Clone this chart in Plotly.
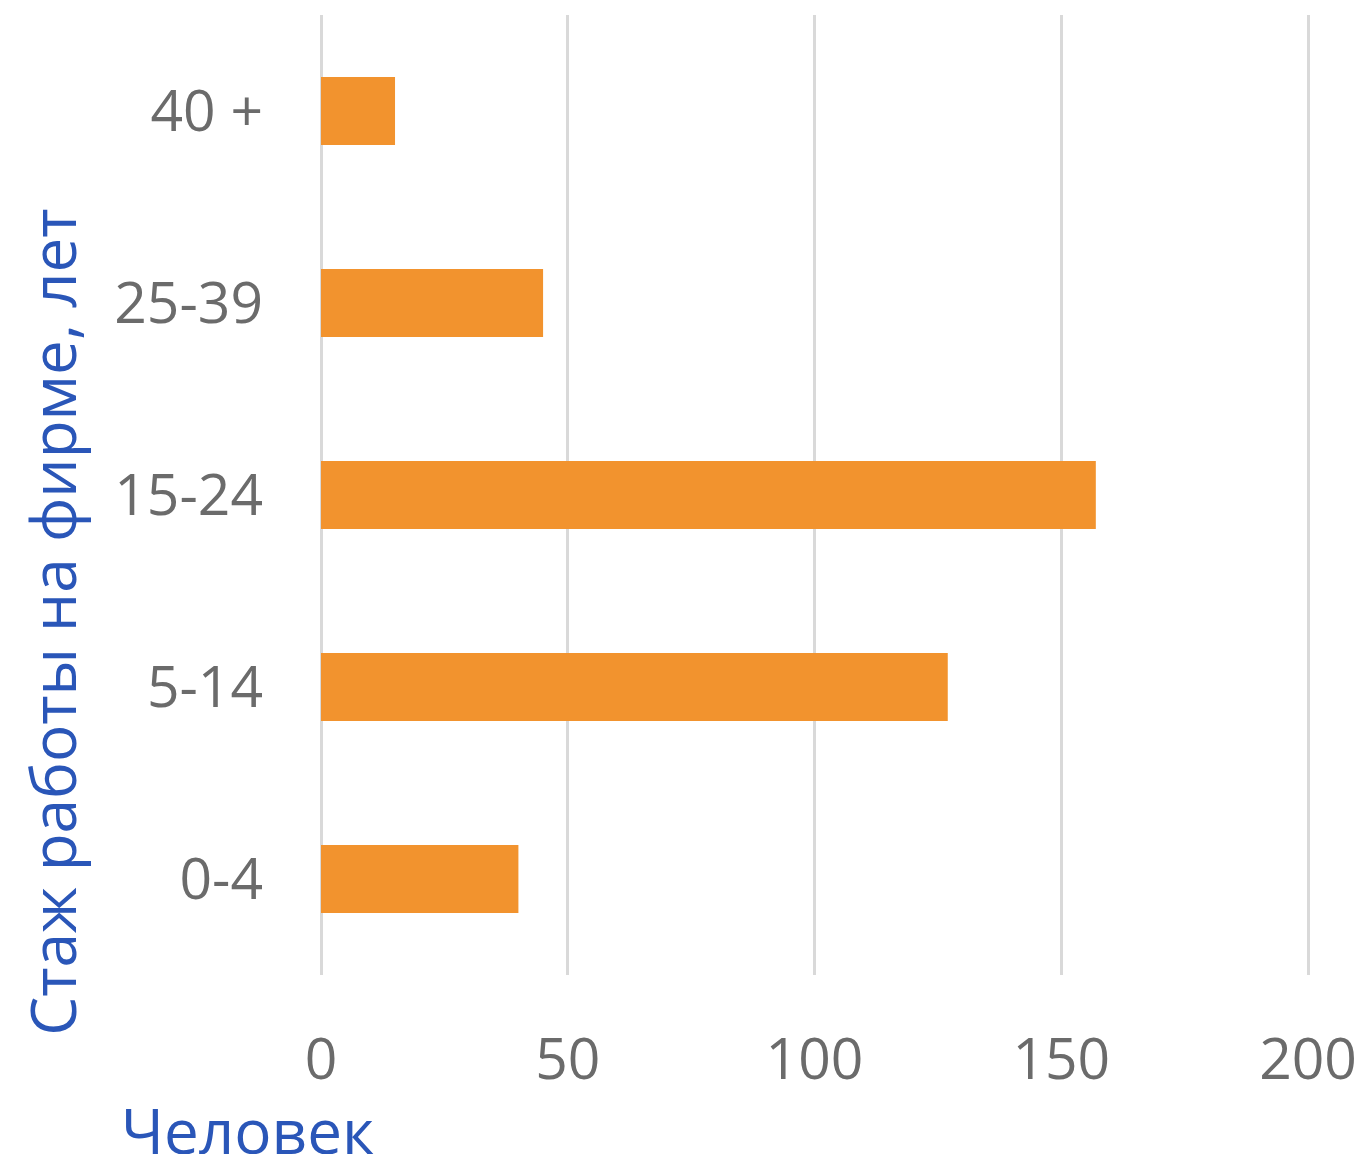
import plotly.graph_objects as go

categories = ["0-4", "5-14", "15-24", "25-39", "40 +"]
values = [40, 127, 157, 45, 15]
x_ticks = [0, 50, 100, 150, 200]

FONT = "Open Sans"
GRAY = "#6b6b6b"
BLUE = "#2a56b8"

fig = go.Figure(go.Bar(
    y=categories, x=values, orientation="h",
    marker=dict(color="#F2932E", line=dict(width=0)),
    width=0.355,
))

fig.update_layout(
    width=1355, height=1146,
    margin=dict(l=313, r=53, t=7, b=179, autoexpand=False),
    paper_bgcolor="white", plot_bgcolor="white",
    showlegend=False,
    font=dict(family=FONT, color=GRAY, size=57),
    xaxis=dict(
        range=[0, 200.4], tickvals=x_ticks, showgrid=True,
        gridcolor="#d9d9d9", gridwidth=3, zeroline=True,
        zerolinecolor="#d9d9d9", zerolinewidth=3,
        showline=False, ticks="", ticklabelstandoff=46,
        automargin=False,
        tickfont=dict(size=57, color=GRAY, family=FONT),
    ),
    yaxis=dict(
        categoryorder="array", categoryarray=categories,
        showgrid=False, zeroline=False, showline=False, ticks="",
        ticklabelstandoff=57, automargin=False,
        tickfont=dict(size=57, color=GRAY, family=FONT),
    ),
    annotations=[
        dict(text="Стаж работы на фирме, лет", textangle=-90,
             xref="paper", yref="paper", x=-0.272, y=0.368,
             xanchor="center", yanchor="middle", showarrow=False,
             font=dict(size=62, color=BLUE, family=FONT)),
        dict(text="Человек",
             xref="paper", yref="paper", x=-0.074, y=-0.161,
             xanchor="center", yanchor="middle", showarrow=False,
             font=dict(size=62, color=BLUE, family=FONT)),
    ],
)
fig.write_html("out.html")
